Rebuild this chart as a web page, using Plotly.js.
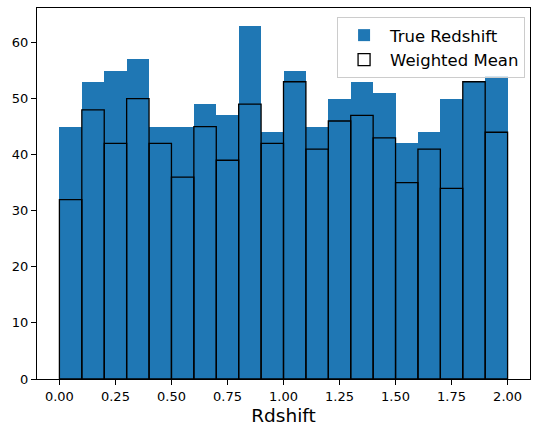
<!DOCTYPE html>
<html>
<head>
<script src="https://cdn.plot.ly/plotly-3.0.1.min.js"></script>
<style>body{margin:0;padding:0;background:#fff}#chart{width:543px;height:437px}</style>
</head>
<body>
<div id="chart"></div>
<script>
const binStarts = [0.0,0.1,0.2,0.3,0.4,0.5,0.6,0.7,0.8,0.9,1.0,1.1,1.2,1.3,1.4,1.5,1.6,1.7,1.8,1.9];
const binWidth = 0.1;
const trueRedshift = [45,53,55,57,45,45,49,47,63,44,55,45,50,53,51,42,44,50,53,54];
const weightedMean = [32,48,42,50,42,36,45,39,49,42,53,41,46,47,43,35,41,34,53,44];
const xTicks = [0,0.25,0.5,0.75,1.0,1.25,1.5,1.75,2.0];
const yTicks = [0,10,20,30,40,50,60];

const centers = binStarts.map(s => s + binWidth/2);

const traces = [
  {type:'bar', name:'True Redshift', x:centers, y:trueRedshift, width:binWidth,
   marker:{color:'#1f77b4', line:{width:0}}},
  {type:'bar', name:'Weighted Mean', x:centers, y:weightedMean, width:binWidth,
   marker:{color:'rgba(0,0,0,0)', line:{color:'#000', width:1.3}}}
];

const layout = {
  width:543, height:437,
  margin:{l:37, r:13, t:8, b:58},
  barmode:'overlay', bargap:0,
  paper_bgcolor:'#fff', plot_bgcolor:'#fff',
  font:{family:'DejaVu Sans', color:'#000', size:13},
  xaxis:{range:[-0.1,2.1], tickvals:xTicks, ticktext:xTicks.map(v=>v.toFixed(2)),
    ticks:'outside', ticklen:5, tickcolor:'#000', showgrid:false, zeroline:false,
    showline:true, linecolor:'#000', linewidth:1, mirror:true,
    title:{text:'Rdshift', font:{size:18.5}, standoff:6}},
  yaxis:{range:[0,66.15], tickvals:yTicks, ticks:'outside', ticklen:5, tickcolor:'#000',
    showgrid:false, zeroline:false, showline:true, linecolor:'#000', linewidth:1, mirror:true},
  legend:{x:0.99, y:0.976, xanchor:'right', yanchor:'top', bgcolor:'rgba(255,255,255,0.8)',
    bordercolor:'#ccc', borderwidth:1, font:{size:16.5}, traceorder:'normal', itemwidth:42},
  showlegend:true
};

Plotly.newPlot('chart', traces, layout, {displayModeBar:false, staticPlot:true});
</script>
</body>
</html>
